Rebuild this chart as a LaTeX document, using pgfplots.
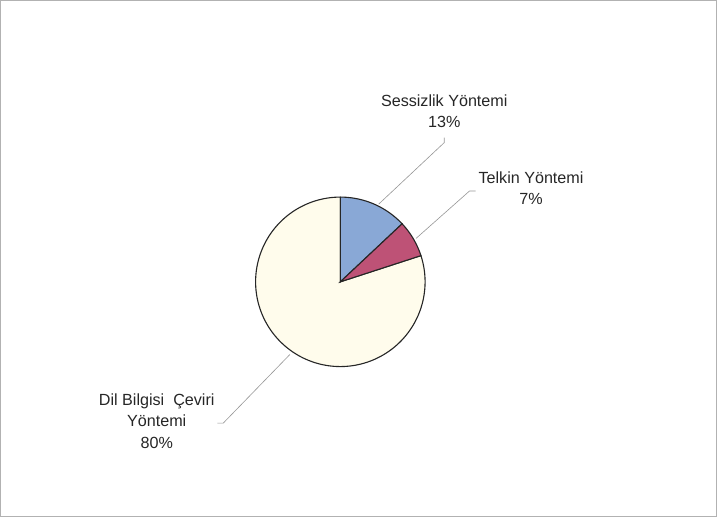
\documentclass[border=0pt]{standalone}
\usepackage{pgfplots}
\pgfplotsset{compat=1.18}
\usepackage{fontspec}
\setmainfont{Liberation Sans}
\definecolor{cBlue}{RGB}{137,168,214}
\definecolor{cMauve}{RGB}{190,82,118}
\definecolor{cCream}{RGB}{255,252,236}
\definecolor{cLead}{RGB}{150,150,150}
\begin{document}
\begin{tikzpicture}
\begin{axis}[width=717bp,height=515bp,scale only axis,
  xmin=0,xmax=717,ymin=0,ymax=515,hide axis,clip=false]
% frame
\draw[gray!60,line width=0.7pt] (axis cs:5,3) rectangle (axis cs:715,514);
% leader lines
\addplot[cLead,line width=0.6pt] coordinates {(445,378) (445,373) (380,312)};
\addplot[cLead,line width=0.6pt] coordinates {(476,325) (470,325) (417,278)};
\addplot[cLead,line width=0.6pt] coordinates {(220,95) (226,95) (292,163)};
% pie slices: Sessizlik 13, Telkin 7, Dil Bilgisi 80 (percent, clockwise from top)
\addplot[fill=cCream,draw=black!85,line width=1.1pt,domain=18:-270,samples=160]
  ({342+84*cos(x)},{235+84*sin(x)}) -- (axis cs:342,235) -- cycle;
\addplot[fill=cBlue,draw=black!85,line width=1.1pt,domain=90:43.2,samples=30]
  ({342+84*cos(x)},{235+84*sin(x)}) -- (axis cs:342,235) -- cycle;
\addplot[fill=cMauve,draw=black!85,line width=1.1pt,domain=43.2:18,samples=20]
  ({342+84*cos(x)},{235+84*sin(x)}) -- (axis cs:342,235) -- cycle;
% labels
\node[align=center,font=\fontsize{16bp}{21bp}\selectfont,text=black!85] at (axis cs:445,404) {Sessizlik Yöntemi\\13\%};
\node[align=center,font=\fontsize{16bp}{21bp}\selectfont,text=black!85] at (axis cs:531,328) {Telkin Yöntemi\\7\%};
\node[align=center,font=\fontsize{16bp}{21bp}\selectfont,text=black!85] at (axis cs:160,97) {Dil Bilgisi\ \ Çeviri\\Yöntemi\\80\%};
\end{axis}
\end{tikzpicture}
\end{document}
